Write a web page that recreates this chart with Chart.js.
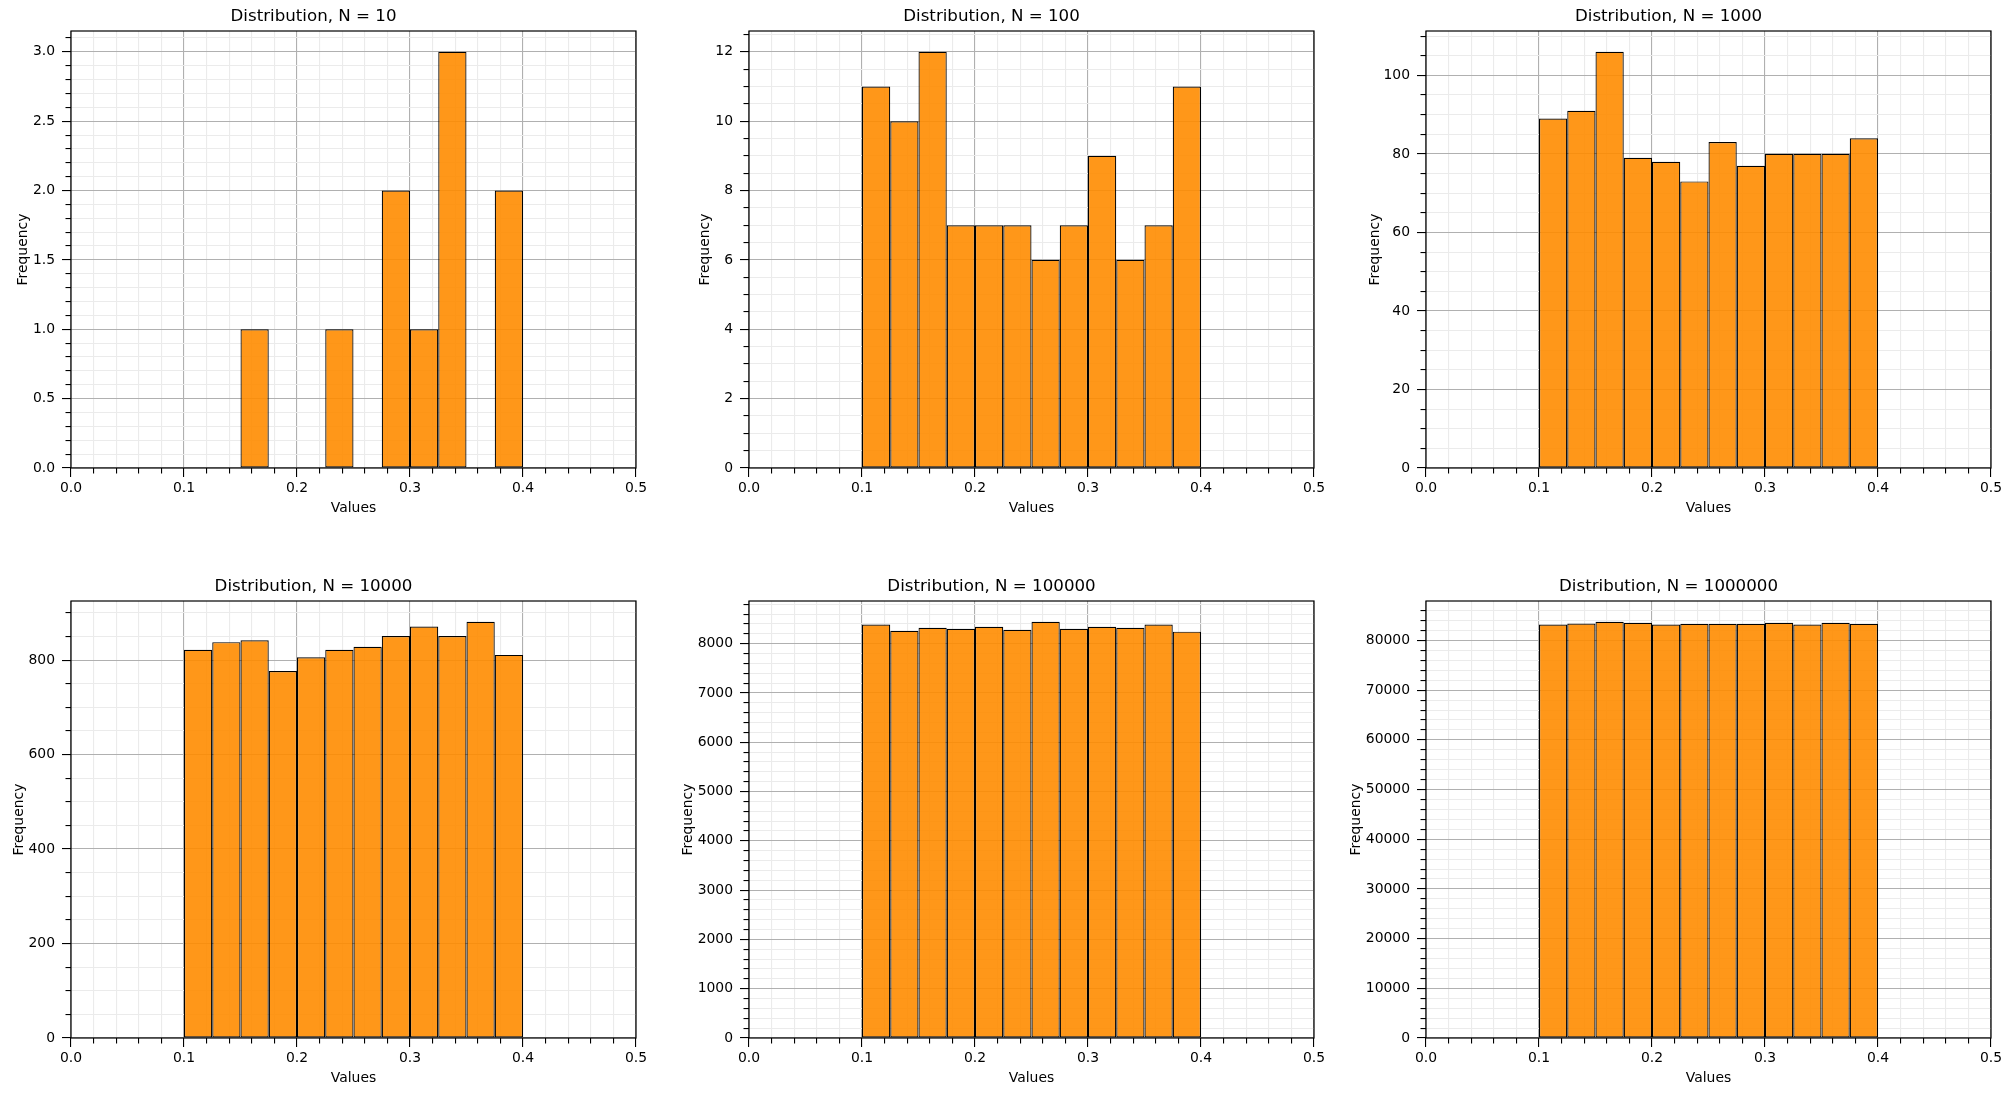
<!DOCTYPE html>
<html>
<head>
<meta charset="utf-8">
<title>Distribution histograms</title>
<script src="https://cdn.jsdelivr.net/npm/chart.js@4.4.1/dist/chart.umd.min.js"></script>
<style>
  html, body { margin: 0; padding: 0; background: #fff; }
  body { position: relative; width: 2011px; height: 1096px; overflow: hidden; }
  .panel { position: absolute; width: 665px; height: 532px; }
</style>
</head>
<body>
<div class="panel" style="left:-9px;top:-9px"><canvas id="c0"></canvas></div>
<div class="panel" style="left:669px;top:-9px"><canvas id="c1"></canvas></div>
<div class="panel" style="left:1346px;top:-9px"><canvas id="c2"></canvas></div>
<div class="panel" style="left:-9px;top:561px"><canvas id="c3"></canvas></div>
<div class="panel" style="left:669px;top:561px"><canvas id="c4"></canvas></div>
<div class="panel" style="left:1346px;top:561px"><canvas id="c5"></canvas></div>
<script>
// bins of width 0.025 between 0.1 and 0.4
const binCenters = [0.1125, 0.1375, 0.1625, 0.1875, 0.2125, 0.2375, 0.2625, 0.2875, 0.3125, 0.3375, 0.3625, 0.3875];
const binWidth = 0.025;
const sampleSizes = [10, 100, 1000, 10000, 100000, 1000000];

const counts10 = [0, 0, 1, 0, 0, 1, 0, 2, 1, 3, 0, 2];
const counts100 = [11, 10, 12, 7, 7, 7, 6, 7, 9, 6, 7, 11];
const counts1000 = [89, 91, 106, 79, 78, 73, 83, 77, 80, 80, 80, 84];
const counts10000 = [822, 838, 842, 777, 806, 822, 828, 851, 871, 851, 881, 811];
const counts100000 = [8390, 8265, 8325, 8305, 8345, 8285, 8445, 8305, 8345, 8325, 8390, 8245];
const counts1000000 = [83230, 83420, 83760, 83560, 83230, 83360, 83360, 83360, 83560, 83230, 83560, 83360];

// axis ticks
const xMajorStep = 0.1;
const xMinorStep = 0.02;
const xMax = 0.5;
const yMajorSteps = [0.5, 2, 20, 200, 1000, 10000];
const yMinorSteps = [0.1, 0.5, 5, 50, 200, 2000];
const yLabelDigits = [1, 0, 0, 0, 0, 0];

const allCounts = [counts10, counts100, counts1000, counts10000, counts100000, counts1000000];

// layout / style
const FONT = "'DejaVu Sans', sans-serif";
const MAJOR_GRID = '#b0b0b0';
const MINOR_GRID = '#ebebeb';
const yTitlePad = [24.4, 28, 20.6, 19.7, 10.8, 1.8];

Chart.defaults.font.family = FONT;
Chart.defaults.color = '#000';

function isMultiple(v, step) {
    const r = v / step;
    return Math.abs(r - Math.round(r)) < 1e-6;
}

function stepTicks(step, max) {
    const out = [];
    const n = Math.floor(max / step + 1e-9);
    for (let k = 0; k <= n; k++) out.push(Math.round(k * step * 1e6) / 1e6);
    return out;
}

// the whole frame, drawn over the bars
const framePlugin = {
    id: 'frame',
    afterDatasetsDraw(chart) {
        const { ctx, chartArea: a } = chart;
        ctx.save();
        ctx.strokeStyle = '#000';
        ctx.lineWidth = 1.2;
        ctx.strokeRect(a.left, a.top, a.right - a.left, a.bottom - a.top);
        ctx.restore();
    }
};

function drawPanel(i) {
    const counts = allCounts[i];
    const yMax = Math.max(...counts) * 1.05;
    const yMajor = yMajorSteps[i];
    const xTicks = stepTicks(xMinorStep, xMax);
    const yTicks = stepTicks(yMinorSteps[i], yMax);

    new Chart(document.getElementById('c' + i), {
        type: 'bar',
        data: {
            datasets: [{
                data: binCenters.map((x, k) => ({ x: x, y: counts[k] })),
                backgroundColor: 'rgba(255, 140, 0, 0.9)',
                borderColor: '#000',
                borderWidth: 1.2,
                borderSkipped: false,
                // chart.js sizes bars from the tick spacing (0.02), bins are 0.025 wide
                barPercentage: binWidth / xMinorStep,
                categoryPercentage: 1
            }]
        },
        options: {
            responsive: true,
            maintainAspectRatio: false,
            animation: false,
            events: [],
            layout: { padding: { left: 0, right: 20, top: 0, bottom: 0 } },
            plugins: {
                legend: { display: false },
                tooltip: { enabled: false },
                title: {
                    display: true,
                    text: 'Distribution, N = ' + sampleSizes[i],
                    color: '#000',
                    font: { size: 16.67, weight: 'normal' },
                    padding: { top: 15.5, bottom: 4.5 }
                }
            },
            scales: {
                x: {
                    type: 'linear',
                    min: 0,
                    max: xMax,
                    offset: false,
                    afterBuildTicks: axis => { axis.ticks = xTicks.map(v => ({ value: v })); },
                    afterFit: axis => { axis.height = 55; },
                    border: { display: false },
                    grid: {
                        offset: false,
                        color: c => (c.tick && isMultiple(c.tick.value, xMajorStep)) ? MAJOR_GRID : MINOR_GRID,
                        lineWidth: 1.1,
                        tickColor: '#000',
                        tickWidth: 1.1,
                        tickLength: 9,
                        tickBorderDash: c => (c.tick && isMultiple(c.tick.value, xMajorStep)) ? [] : [5.5, 20]
                    },
                    ticks: {
                        autoSkip: false,
                        maxRotation: 0,
                        padding: 3.4,
                        font: { size: 13.9 },
                        callback: v => isMultiple(v, xMajorStep) ? v.toFixed(1) : ''
                    },
                    title: {
                        display: true,
                        text: 'Values',
                        font: { size: 13.9 },
                        padding: { top: 0, bottom: 5.9 }
                    }
                },
                y: {
                    type: 'linear',
                    min: 0,
                    max: yMax,
                    afterBuildTicks: axis => { axis.ticks = yTicks.map(v => ({ value: v })); },
                    afterFit: axis => { axis.width = 80; },
                    border: { display: false },
                    grid: {
                        color: c => (c.tick && isMultiple(c.tick.value, yMajor)) ? MAJOR_GRID : MINOR_GRID,
                        lineWidth: 1.1,
                        tickColor: '#000',
                        tickWidth: 1.1,
                        tickLength: 9,
                        tickBorderDash: c => (c.tick && isMultiple(c.tick.value, yMajor)) ? [] : [5.5, 3.5],
                        tickBorderDashOffset: c => (c.tick && isMultiple(c.tick.value, yMajor)) ? 0 : 5.5
                    },
                    ticks: {
                        autoSkip: false,
                        padding: 7,
                        font: { size: 13.9 },
                        callback: v => isMultiple(v, yMajor) ? v.toFixed(yLabelDigits[i]) : ''
                    },
                    title: {
                        display: true,
                        text: 'Frequency',
                        font: { size: 13.9 },
                        padding: { top: yTitlePad[i], bottom: 0 }
                    }
                }
            }
        },
        plugins: [framePlugin]
    });
}

document.addEventListener("DOMContentLoaded", () => {
    for (let i = 0; i < allCounts.length; i++) drawPanel(i);
});
</script>
</body>
</html>
